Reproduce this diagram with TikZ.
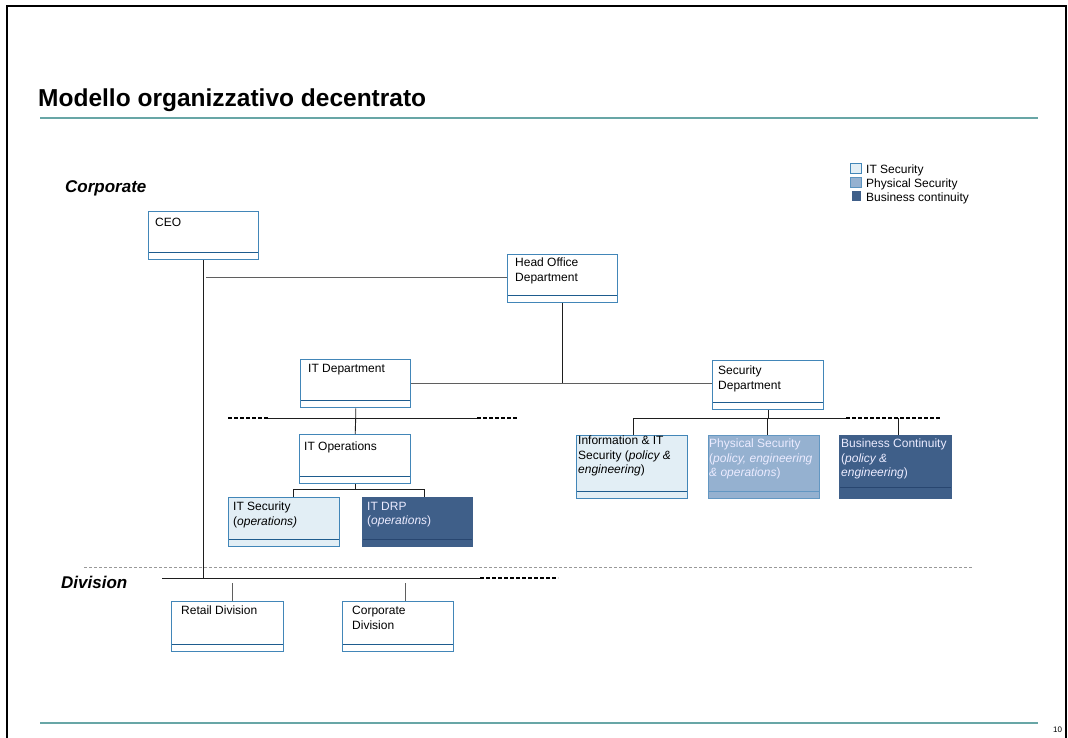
\documentclass[tikz,border=0pt]{standalone}
\usepackage{fontspec}
\setmainfont{Liberation Sans}
\usetikzlibrary{calc}

\definecolor{rulecol}{RGB}{104,166,166}
\definecolor{boxline}{RGB}{66,134,184}
\definecolor{sepline}{RGB}{30,92,142}
\definecolor{itsecfill}{RGB}{226,238,245}
\definecolor{physfill}{RGB}{149,177,208}
\definecolor{busfill}{RGB}{63,95,137}
\definecolor{busline}{RGB}{40,70,112}
\definecolor{conncol}{RGB}{30,30,30}
\definecolor{greyconn}{RGB}{95,95,95}

\def\stripht{7pt}
\tikzset{
  orgbox/.style={draw=boxline, line width=1.4pt, anchor=north west,
    inner sep=0pt, minimum width=110pt, minimum height=48pt,
    path picture={\draw[sepline, line width=1.1pt]
      ([yshift=\stripht]path picture bounding box.south west) --
      ([yshift=\stripht]path picture bounding box.south east);}},
  boxtext/.style={anchor=north west, inner sep=0pt, align=left,
    font=\fontsize{12}{14.5}\selectfont},
  lighttext/.style={boxtext, text=white!92!blue},
  conn/.style={draw=conncol, line width=0.9pt},
  gconn/.style={draw=greyconn, line width=0.9pt},
  ext/.style={draw=black, line width=1.6pt, dash pattern=on 4pt off 2pt},
  level/.style={anchor=base west, inner sep=0pt,
    font=\fontsize{17}{19}\selectfont\bfseries\itshape},
  legendtext/.style={anchor=base west, inner sep=0pt,
    font=\fontsize{12}{13}\selectfont}
}

\begin{document}
\begin{tikzpicture}[x=1pt, y=-1pt]
\useasboundingbox[fill=white] (0,0) rectangle (1068,737);

% page frame
\draw[line width=2pt] (7,745) -- (7,6) -- (1066,6) -- (1066,745);

% header and footer
\node[anchor=base west, inner sep=0pt, font=\fontsize{24.5}{27}\selectfont\bfseries]
  (title) at (38,106) {Modello organizzativo decentrato};
\draw[rulecol, line width=1.6pt] (40,118) -- (1038,118);
\draw[rulecol, line width=1.6pt] (40,723) -- (1038,723);
\node[anchor=base west, inner sep=0pt, font=\fontsize{8}{9}\selectfont]
  (pagenum) at (1053,732) {10};

% level labels
\node[level] (corporate) at (65,192) {Corporate};
\node[level] (division) at (61,588) {Division};
\draw[gray!80, line width=0.8pt, dash pattern=on 3pt off 2pt] (84,567) -- (972,567);

% legend
\draw[boxline, fill=itsecfill, line width=1pt] (850,163) rectangle (861,173);
\draw[boxline!70!physfill, fill=physfill, line width=1pt] (850,177) rectangle (861,187);
\fill[busfill] (852,191) rectangle (861,201);
\node[legendtext] (lg1) at (866,173) {IT Security};
\node[legendtext] (lg2) at (866,187) {Physical Security};
\node[legendtext] (lg3) at (866,201) {Business continuity};

% boxes
\node[orgbox] (ceo) at (148,211) {};
\node[orgbox] (head) at (507,254) {};
\node[orgbox] (itd) at (300,359) {};
\node[orgbox, minimum width=111pt, minimum height=49pt] (secd) at (712,360) {};
\node[orgbox, minimum width=111pt, minimum height=49pt] (itops) at (299,434) {};
\node[orgbox, fill=itsecfill, minimum width=111pt, minimum height=49pt] (itsec) at (228,497) {};
\node[orgbox, fill=busfill, draw=busfill, minimum height=49pt,
  path picture={\draw[busline, line width=1.1pt]
    ([yshift=\stripht]path picture bounding box.south west) --
    ([yshift=\stripht]path picture bounding box.south east);}] (itdrp) at (362,497) {};
\node[orgbox, fill=itsecfill, minimum width=111pt, minimum height=63pt] (info) at (576,435) {};
\node[orgbox, fill=physfill, draw=boxline!60!physfill, minimum width=111pt, minimum height=63pt,
  path picture={\draw[boxline!60!physfill, line width=1.1pt]
    ([yshift=\stripht]path picture bounding box.south west) --
    ([yshift=\stripht]path picture bounding box.south east);}] (phys) at (708,435) {};
\node[orgbox, fill=busfill, draw=busfill, minimum width=112pt, minimum height=63pt,
  path picture={\draw[busline, line width=1.1pt]
    ([yshift=11pt]path picture bounding box.south west) --
    ([yshift=11pt]path picture bounding box.south east);}] (bus) at (839,435) {};
\node[orgbox, minimum width=112pt, minimum height=50pt] (retail) at (171,601) {};
\node[orgbox, minimum width=111pt, minimum height=50pt] (corpdiv) at (342,601) {};

% box texts
\node[boxtext] (ceo-t) at ($(ceo.north west)+(7,7)$) {CEO};
\node[boxtext] (head-t) at ($(head.north west)+(8,4)$) {Head Office\\Department};
\node[boxtext] (itd-t) at ($(itd.north west)+(8,5)$) {IT Department};
\node[boxtext] (secd-t) at ($(secd.north west)+(6,6)$) {Security\\Department};
\node[boxtext] (itops-t) at ($(itops.north west)+(5,8)$) {IT Operations};
\node[boxtext] (itsec-t) at ($(itsec.north west)+(5,5)$) {IT Security\\(\textit{operations)}};
\node[lighttext] (itdrp-t) at ($(itdrp.north west)+(5,5)$) {IT DRP\\(\textit{operations})};
\node[boxtext] (info-t) at ($(info.north west)+(2,1)$) {Information \& IT\\Security (\textit{policy \&}\\\textit{engineering})};
\node[lighttext] (phys-t) at ($(phys.north west)+(1,4)$) {Physical Security\\(\textit{policy, engineering}\\\textit{\& operations})};
\node[lighttext] (bus-t) at ($(bus.north west)+(2,4)$) {Business Continuity\\(\textit{policy \&}\\\textit{engineering})};
\node[boxtext] (retail-t) at ($(retail.north west)+(10,5)$) {Retail Division};
\node[boxtext] (corpdiv-t) at ($(corpdiv.north west)+(10,5)$) {Corporate\\Division};

% junction points of the connector buses
\coordinate (hj) at (206,277);
\coordinate (itbusL) at (268,418);
\coordinate (itbusR) at (477,418);
\coordinate (itdashL) at (228,418);
\coordinate (itdashR) at (518,418);
\coordinate (ob1) at (293,489);
\coordinate (ob2) at (424,489);
\coordinate (sb1) at (633,418);
\coordinate (sb2) at (767,418);
\coordinate (sb3) at (898,418);
\coordinate (sbR) at (846,418);
\coordinate (sbdash) at (940,418);
\coordinate (divL) at (162,578);
\coordinate (divR) at (480,578);
\coordinate (divdash) at (558,578);
\coordinate (dv1) at (232,583);
\coordinate (dv2) at (405,583);

% connectors
\draw[conn] (ceo.south) -- (ceo.south |- divL);
\draw[gconn] (hj) -- (hj -| head.west);
\draw[conn] (head.south) -- (head.south |- itd.east);
\draw[gconn] (itd.east) -- (itd.east -| secd.west);

\draw[conn] (itd.south) -- (itd.south |- itbusL) -- (itops.north);
\draw[conn] (itbusL) -- (itbusR);
\draw[ext] (itdashL) -- (itbusL);
\draw[ext] (itbusR) -- (itdashR);

\draw[conn] (itops.south) -- (itops.south |- ob1);
\draw[conn] (ob1 |- itsec.north) -- (ob1) -- (ob2) -- (ob2 |- itdrp.north);

\draw[conn] (secd.south) -- (secd.south |- sb1);
\draw[conn] (sb1) -- (sbR);
\draw[ext] (sbR) -- (sbdash);
\draw[conn] (sb1) -- (sb1 |- info.north);
\draw[conn] (sb2) -- (sb2 |- phys.north);
\draw[conn] (sb3) -- (sb3 |- bus.north);

\draw[conn] (divL) -- (divR);
\draw[ext] (divR) -- (divdash);
\draw[gconn] (dv1) -- (dv1 |- retail.north);
\draw[gconn] (dv2) -- (dv2 |- corpdiv.north);
\end{tikzpicture}
\end{document}
